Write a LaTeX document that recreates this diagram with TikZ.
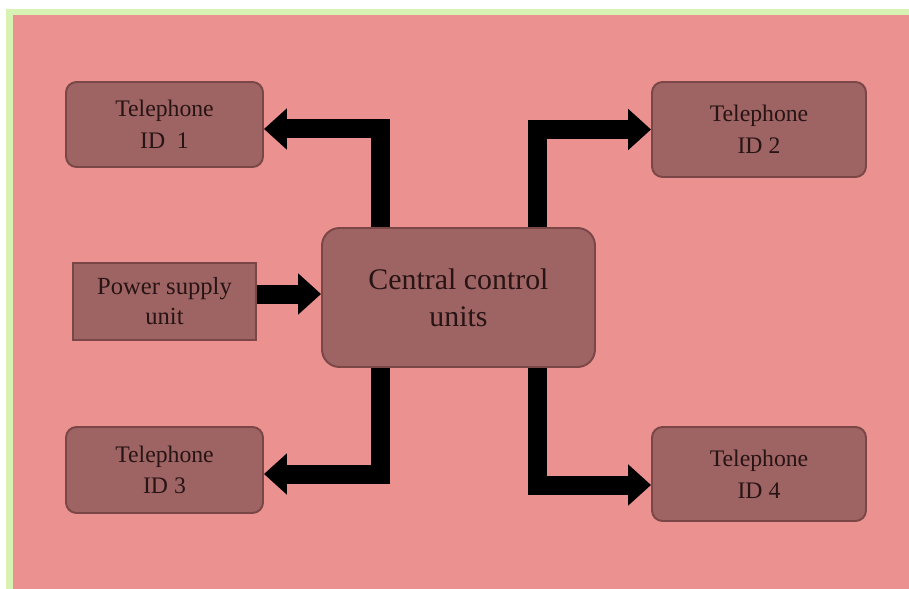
\documentclass[tikz,border=0pt]{standalone}
\usepackage{fontspec}
\setmainfont{Liberation Serif}
\definecolor{bgcolor}{RGB}{235,146,144}
\definecolor{framecolor}{RGB}{216,242,180}
\definecolor{boxcolor}{RGB}{158,99,99}
\definecolor{edgecolor}{RGB}{122,70,70}
\definecolor{labelcolor}{RGB}{40,20,20}
\usetikzlibrary{arrows.meta, positioning, calc}

\begin{document}
\begin{tikzpicture}[
    unitbox/.style={draw=edgecolor, fill=boxcolor, line width=1.1pt, rounded corners=6pt, align=center, text=labelcolor, inner sep=0pt, font=\fontsize{13.5}{18}\selectfont},
    bigarrow/.style={line width=0.38cm, line join=miter, -{Triangle[length=0.46cm, width=0.8cm]}}
]
  % Background
  \useasboundingbox (0,0) rectangle (18.18,-11.78);
  \fill[framecolor] (0.12,-0.18) rectangle (18.18,-11.78);
  \fill[bgcolor] (0.26,-0.3) rectangle (18.18,-11.78);

  % Central unit and power supply
  \node[unitbox, rounded corners=10pt, minimum width=5.46cm, minimum height=2.78cm, font=\fontsize{17}{21}\selectfont] (cent) at (9.17,-5.95) {Central control\\units};
  \node[unitbox, rounded corners=0pt, minimum width=3.66cm, minimum height=1.54cm, font=\fontsize{14}{17}\selectfont] (power) at (3.29,-6.03) {Power supply\\unit};

  % Telephones
  \node[unitbox, minimum width=3.94cm, minimum height=1.7cm] (tel1) at (3.29,-2.49) {Telephone\\ID~~1};
  \node[unitbox, minimum width=4.28cm, minimum height=1.9cm] (tel2) at (15.18,-2.59) {Telephone\\ID 2};
  \node[unitbox, minimum width=3.94cm, minimum height=1.72cm] (tel3) at (3.29,-9.4) {Telephone\\ID 3};
  \node[unitbox, minimum width=4.28cm, minimum height=1.88cm] (tel4) at (15.18,-9.48) {Telephone\\ID 4};

  % Connections
  \draw[bigarrow] ([yshift=0.15cm]power.east) -- ([yshift=0.15cm]power.east -| cent.west);
  \draw[bigarrow] ([xshift=-1.57cm]cent.north) |- ([yshift=-0.09cm]tel1.east);
  \draw[bigarrow] ([xshift=1.57cm]cent.north) |- (tel2.west);
  \draw[bigarrow] ([xshift=-1.57cm]cent.south) |- ([yshift=-0.08cm]tel3.east);
  \draw[bigarrow] ([xshift=1.57cm]cent.south) |- ([yshift=-0.22cm]tel4.west);
\end{tikzpicture}
\end{document}
